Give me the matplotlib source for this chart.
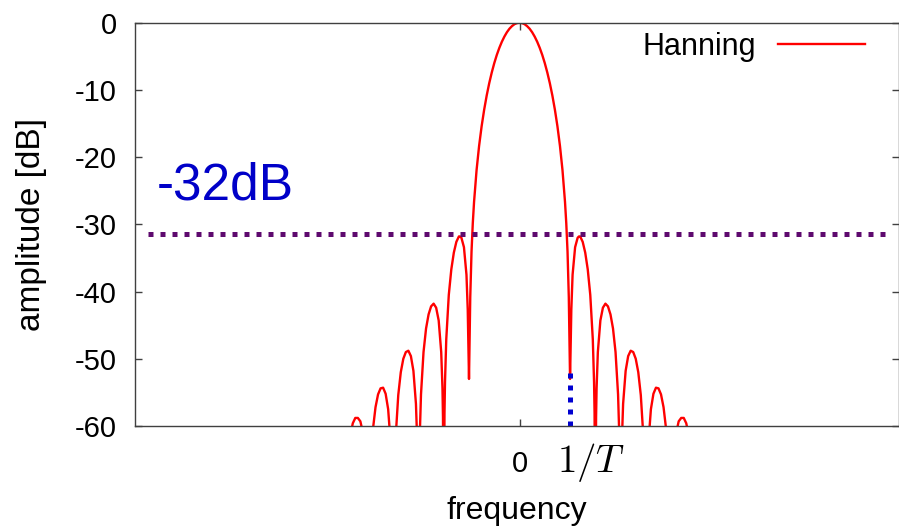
import numpy as np
import matplotlib
matplotlib.use('Agg')
import matplotlib.pyplot as plt

# right half of the spectrum (frequency in units of 1/T, amplitude in dB), mirrored below
freq = [0.0, 0.05, 0.1, 0.15, 0.2, 0.25, 0.3, 0.35, 0.4, 0.45, 0.5, 0.55, 0.6, 0.65,
        0.7, 0.75, 0.8, 0.85, 0.9, 0.925, 0.95, 0.975, 1.0,
        1.015, 1.025, 1.05, 1.1, 1.15, 1.175, 1.2, 1.25, 1.3, 1.35, 1.4, 1.45, 1.475, 1.485, 1.5,
        1.515, 1.525, 1.55, 1.6, 1.65, 1.7, 1.75, 1.8, 1.85, 1.9, 1.95, 1.975, 2.0,
        2.025, 2.05, 2.1, 2.15, 2.2, 2.25, 2.3, 2.35, 2.4, 2.45, 2.5,
        2.55, 2.6, 2.65, 2.7, 2.75, 2.8, 2.85, 2.9, 2.95, 3.0,
        3.05, 3.1, 3.15, 3.2, 3.25, 3.3, 3.35, 3.4, 3.45, 3.5]
amp_db = [0.0, -0.06, -0.22, -0.51, -0.9, -1.42, -2.07, -2.84, -3.75, -4.8, -6.02, -7.42, -9.01, -10.84,
          -12.95, -15.4, -18.32, -21.92, -26.67, -29.83, -34.05, -40.8, -53.0,
          -46.8, -42.7, -37.5, -33.4, -32.0, -31.8, -31.8, -32.6, -34.2, -36.7, -40.5, -47.1, -53.5, -58.1, -80.0,
          -58.7, -54.4, -49.0, -44.3, -42.4, -41.8, -42.2, -43.4, -45.5, -49.0, -55.3, -61.6, -80.0,
          -62.3, -56.7, -51.8, -49.6, -48.8, -49.0, -50.0, -52.0, -55.4, -61.5, -80.0,
          -62.6, -57.5, -55.2, -54.3, -54.4, -55.3, -57.2, -60.4, -66.5, -80.0,
          -67.0, -61.0, -59.3, -58.8, -58.8, -59.6, -61.5, -64.6, -70.0, -80.0]

sidelobe_level = -31.5
sidelobe_text = '-32dB'
marker_freq = 1.0
marker_top = -52.0

freq = np.array(freq)
amp_db = np.array(amp_db)
x = np.concatenate([-freq[::-1], freq[1:]])
y = np.concatenate([amp_db[::-1], amp_db[1:]])

plt.rcParams['font.family'] = ['Liberation Sans', 'DejaVu Sans']
plt.rcParams['mathtext.fontset'] = 'cm'
plt.rcParams['axes.unicode_minus'] = False

fig = plt.figure(figsize=(8.99, 5.26), dpi=100)
ax = fig.add_axes([135 / 899, 100 / 526, 763.5 / 899, 403.3 / 526])

ax.plot(x, y, color='red', lw=1.7, label='Hanning')
ax.hlines(sidelobe_level, -7.35, 7.35, colors='#5e0a6e', lw=3.6, linestyles=(0, (1, 1.4)))
ax.vlines(marker_freq, -60, marker_top, colors='#0000d0', lw=3.6, linestyles=(0, (1, 1.4)))

ax.text(-7.18, -24.3, sidelobe_text, color='#0000c8', fontsize=37, ha='left', va='center')
ax.text(0.74, -0.09, r'$1/T$', transform=ax.get_xaxis_transform(), fontsize=28,
        ha='left', va='center')

ax.set_xlim(-7.61, 7.5)
ax.set_ylim(-60, 0)
ax.set_xticks([0])
ax.set_yticks(np.arange(-60, 1, 10))
ax.tick_params(direction='in', length=5, width=1, top=True, right=True,
               labelsize=21, colors='#404040', labelcolor='black')
ax.tick_params(axis='x', pad=17)
ax.tick_params(axis='y', pad=13)
for s in ax.spines.values():
    s.set_color('#404040')
    s.set_linewidth(1)

ax.set_xlabel('frequency', fontsize=23, labelpad=13)
ax.set_ylabel('amplitude [dB]', fontsize=24, labelpad=20)

ax.legend(loc='center right', bbox_to_anchor=(0.956, 0.94), frameon=False, markerfirst=False,
          handlelength=2.85, handletextpad=0.7, fontsize=22, borderpad=0, borderaxespad=0)

fig.savefig('out.png', dpi=100)
